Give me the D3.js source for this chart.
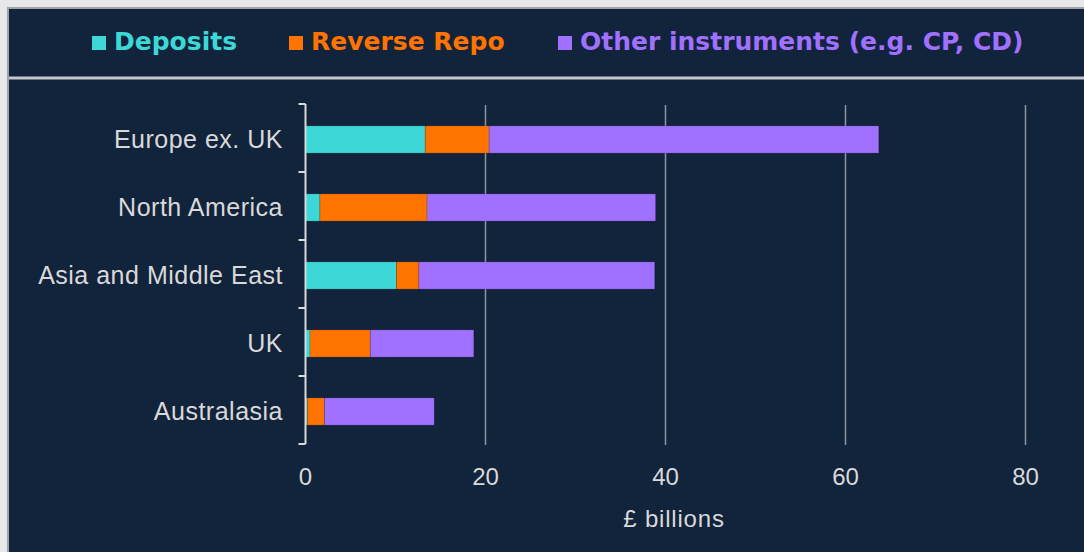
<!DOCTYPE html>
<html>
<head>
<meta charset="utf-8">
<script src="https://cdn.jsdelivr.net/npm/d3@7"></script>
<style>
  body { margin: 0; background: #ffffff; }
  svg { display: block; }
</style>
</head>
<body>
<div id="chart"></div>
<script>
const regions = ["Europe ex. UK", "North America", "Asia and Middle East", "UK", "Australasia"];
const seriesNames = ["Deposits", "Reverse Repo", "Other instruments (e.g. CP, CD)"];
const deposits = [13.3, 1.6, 10.1, 0.5, 0.2];
const reverseRepo = [7.1, 11.9, 2.5, 6.7, 1.9];
const otherInstruments = [43.3, 25.4, 26.2, 11.5, 12.2];
const xTicks = [0, 20, 40, 60, 80];

const colors = ["#3dd7d7", "#ff7300", "#a070ff"];
const navy = "#12233c";

const width = 1084, height = 552;

const data = regions.map((r, i) => ({
  region: r,
  "Deposits": deposits[i],
  "Reverse Repo": reverseRepo[i],
  "Other instruments (e.g. CP, CD)": otherInstruments[i]
}));

const svg = d3.select("#chart").append("svg")
    .attr("width", width)
    .attr("height", height);

// frame
svg.append("rect").attr("x", 0).attr("y", 0).attr("width", width).attr("height", height).attr("fill", "#e6e7e8");
svg.append("rect").attr("x", 7).attr("y", 7).attr("width", width - 7).attr("height", height - 7).attr("fill", "#9ea3a8");
svg.append("rect").attr("x", 9).attr("y", 9).attr("width", width - 9).attr("height", height - 9).attr("fill", navy);
svg.append("rect").attr("x", 9).attr("y", 76.5).attr("width", width - 9).attr("height", 3).attr("fill", "#c4c8cc");

// legend
const legendX = [92, 289, 558];
const legend = svg.append("g");
seriesNames.forEach((name, i) => {
  legend.append("rect")
      .attr("x", legendX[i])
      .attr("y", 36)
      .attr("width", 14)
      .attr("height", 14)
      .attr("fill", colors[i]);
  legend.append("text")
      .attr("x", legendX[i] + 22)
      .attr("y", 50)
      .attr("fill", colors[i])
      .attr("font-family", "DejaVu Sans")
      .attr("font-weight", "bold")
      .attr("font-size", 25)
      .text(name);
});

const margin = {top: 104, right: 58, bottom: 108, left: 305.5};

const x = d3.scaleLinear()
    .domain([0, 80])
    .range([margin.left, margin.left + 720]);

const y = d3.scaleBand()
    .domain(regions)
    .range([margin.top + 1.5, height - margin.bottom + 1.5])
    .paddingInner(0.6)
    .paddingOuter(0.3);

// gridlines
svg.append("g")
  .selectAll("line")
  .data(xTicks.filter(d => d > 0))
  .join("line")
    .attr("x1", d => x(d))
    .attr("x2", d => x(d))
    .attr("y1", margin.top + 1)
    .attr("y2", height - margin.bottom + 1)
    .attr("stroke", "#8d95a1")
    .attr("stroke-width", 1.5);

// bars
const stack = d3.stack().keys(seriesNames)(data);

svg.append("g")
  .selectAll("g")
  .data(stack)
  .join("g")
    .attr("fill", (d, i) => colors[i])
  .selectAll("rect")
  .data(d => d)
  .join("rect")
    .attr("x", d => x(d[0]))
    .attr("y", d => y(d.data.region))
    .attr("width", d => x(d[1]) - x(d[0]))
    .attr("height", y.bandwidth())
    .attr("stroke", "rgba(0,0,0,0.18)")
    .attr("stroke-width", 0.8);

// y axis: ticks at category boundaries
const boundaries = d3.range(regions.length + 1).map(i => margin.top + i * (height - margin.top - margin.bottom) / regions.length);

const yAxis = svg.append("g");
yAxis.append("line")
    .attr("x1", x(0)).attr("x2", x(0))
    .attr("y1", margin.top).attr("y2", height - margin.bottom)
    .attr("stroke", "#d9d9d9")
    .attr("stroke-width", 2);
yAxis.selectAll(".tick")
  .data(boundaries)
  .join("line")
    .attr("class", "tick")
    .attr("x1", x(0) - 7).attr("x2", x(0))
    .attr("y1", d => d).attr("y2", d => d)
    .attr("stroke", "#d9d9d9")
    .attr("stroke-width", 2);

yAxis.selectAll(".label")
  .data(regions)
  .join("text")
    .attr("class", "label")
    .attr("x", 283)
    .attr("y", d => y(d) + y.bandwidth() / 2)
    .attr("dy", "0.35em")
    .attr("text-anchor", "end")
    .attr("fill", "#d9d9d9")
    .attr("font-family", "Liberation Sans, Arial, sans-serif")
    .attr("font-size", 25)
    .attr("letter-spacing", 0.5)
    .text(d => d);

// x axis labels
svg.append("g")
  .selectAll("text")
  .data(xTicks)
  .join("text")
    .attr("x", d => x(d))
    .attr("y", 485)
    .attr("text-anchor", "middle")
    .attr("fill", "#d9d9d9")
    .attr("font-family", "Liberation Sans, Arial, sans-serif")
    .attr("font-size", 24)
    .text(d => d);

svg.append("text")
    .attr("x", 674)
    .attr("y", 527)
    .attr("text-anchor", "middle")
    .attr("fill", "#d9d9d9")
    .attr("font-family", "Liberation Sans, Arial, sans-serif")
    .attr("font-size", 24)
    .attr("letter-spacing", 0.8)
    .text("£ billions");
</script>
</body>
</html>
